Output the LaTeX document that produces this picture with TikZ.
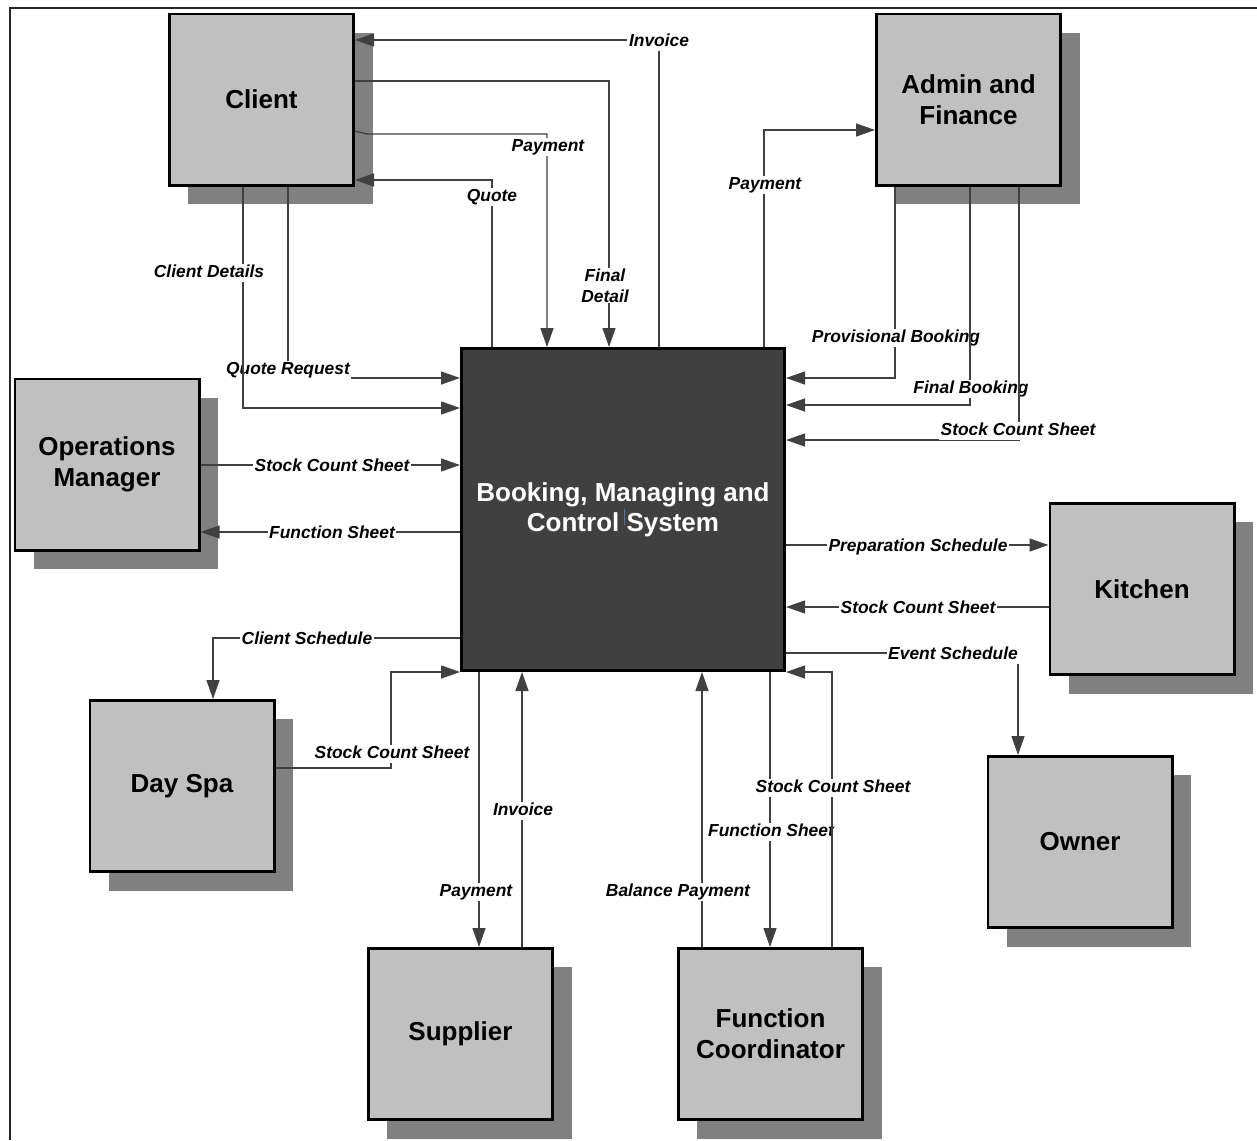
\documentclass[tikz,border=0pt]{standalone}
\usepackage{fontspec}
\setmainfont{Liberation Sans}
\usetikzlibrary{arrows.meta,shadows}
\definecolor{boxgray}{HTML}{C0C0C0}
\definecolor{shadowgray}{HTML}{808080}
\definecolor{coregray}{HTML}{404040}
\definecolor{linegray}{HTML}{404040}
\definecolor{framegray}{HTML}{262626}
\definecolor{caretblue}{HTML}{5470A8}

\begin{document}
\begin{tikzpicture}[x=0.5pt,y=-0.5pt,
  entity/.style={draw=black, line width=1.3pt, fill=boxgray,
    minimum width=92.2pt, minimum height=85.7pt, inner sep=0pt, align=center,
    font=\bfseries\fontsize{13}{15.5}\selectfont,
    drop shadow={shadow xshift=9.5pt, shadow yshift=-9.5pt, opacity=1, fill=shadowgray}},
  core/.style={draw=black, line width=1.3pt, fill=coregray, text=white,
    minimum width=161.7pt, minimum height=161.2pt, inner sep=0pt, align=center,
    font=\bfseries\fontsize{13}{15}\selectfont},
  flow/.style={draw=linegray, line width=0.65pt, -{Triangle[length=9.5pt,width=6.5pt]}},
  lbltxt/.style={fill=white, inner xsep=0.8pt, inner ysep=0.3pt, yshift=-0.9pt,
    font=\bfseries\itshape\fontsize{8.7}{10.5}\selectfont},
  lbl/.style={lbltxt, text height=6.5pt, text depth=1.8pt}
]
% canvas
\useasboundingbox (0,0) rectangle (1257,1140);
\fill[white] (0,0) rectangle (1257,1140);
\draw[framegray, line width=1.1pt] (10,1140) -- (10,8) -- (1257,8);

% external entities and the central system
\node[entity] (client) at (261.5,99.5)  {Client};
\node[entity] (adm)    at (968.5,99.5)  {Admin and\\Finance};
\node[entity] (om)     at (107,464.5)   {Operations\\Manager};
\node[entity] (kit)    at (1142,589)    {Kitchen};
\node[entity] (own)    at (1080,842)    {Owner};
\node[entity] (spa)    at (182,786)     {Day Spa};
\node[entity] (sup)    at (460.5,1034)  {Supplier};
\node[entity] (fc)     at (770.5,1034)  {Function\\Coordinator};
\node[core]   (sys)    at (623,509.5)   {Booking, Managing and\\Control System};
\draw[caretblue, line width=0.4pt] (624,509) -- (624,525);

% client flows
\draw[flow] (sys.north -| 659,0) |- (client.east |- 0,40);
\node[lbl] (lInvC) at (659,40) {Invoice};
\draw[flow] (client.east |- 0,81) -| (sys.north -| 609,0);
\node[lbltxt, align=center] (lFin) at (605,284) {Final\\Detail};
\draw[flow] (client.east |- 0,131) -- (367,134) -| (sys.north -| 547,0);
\node[lbl] (lPayC) at (548,145) {Payment};
\draw[flow] (sys.north -| 492,0) |- (client.east |- 0,180);
\node[lbl] (lQuote) at (492,195) {Quote};
\draw[flow] (client.south -| 288,0) |- (sys.west |- 0,378);
\node[lbl] (lQReq) at (288,368) {Quote Request};
\draw[flow] (client.south -| 243,0) |- (sys.west |- 0,408);
\node[lbl] (lCDet) at (209,271) {Client Details};

% operations manager flows
\draw[flow] (om.east |- 0,465) -- (sys.west |- 0,465);
\node[lbl] (lOMs) at (332,465) {Stock Count Sheet};
\draw[flow] (sys.west |- 0,532) -- (om.east |- 0,532);
\node[lbl] (lOMf) at (332,532) {Function Sheet};

% day spa flows
\draw[flow] (sys.west |- 0,638) -| (spa.north -| 213,0);
\node[lbl] (lCSch) at (307,638) {Client Schedule};
\draw[flow] (spa.east |- 0,768) -| (391,672) -- (sys.west |- 0,672);
\node[lbl] (lSpaS) at (392,752) {Stock Count Sheet};

% supplier flows
\draw[flow] (sys.south -| 479,0) -- (sup.north -| 479,0);
\node[lbl] (lPayS) at (476,890) {Payment};
\draw[flow] (sup.north -| 522,0) -- (sys.south -| 522,0);
\node[lbl] (lInvS) at (523,809) {Invoice};

% function coordinator flows
\draw[flow] (fc.north -| 702,0) -- (sys.south -| 702,0);
\node[lbl] (lBal) at (678,890) {Balance Payment};
\draw[flow] (sys.south -| 770,0) -- (fc.north -| 770,0);
\node[lbl] (lFCf) at (771,830) {Function Sheet};
\draw[flow] (fc.north -| 832,0) |- (sys.east |- 0,672);
\node[lbl] (lFCs) at (833,786) {Stock Count Sheet};

% kitchen flows
\draw[flow] (sys.east |- 0,545) -- (kit.west |- 0,545);
\node[lbl] (lPrep) at (918,545) {Preparation Schedule};
\draw[flow] (kit.west |- 0,607) -- (sys.east |- 0,607);
\node[lbl] (lKitS) at (918,607) {Stock Count Sheet};

% owner flow
\draw[flow] (sys.east |- 0,653) -| (own.north -| 1018,0);
\node[lbl] (lEvt) at (953,653) {Event Schedule};

% admin and finance flows
\draw[flow] (sys.north -| 764,0) |- (adm.west |- 0,130);
\node[lbl] (lPayA) at (765,183) {Payment};
\draw[flow] (adm.south -| 895,0) |- (sys.east |- 0,378);
\node[lbl] (lProv) at (896,336) {Provisional Booking};
\draw[flow] (adm.south -| 970,0) |- (sys.east |- 0,405);
\node[lbl] (lFinB) at (971,387) {Final Booking};
\draw[flow] (adm.south -| 1019,0) |- (sys.east |- 0,440);
\node[lbl] (lAdmS) at (1018,429) {Stock Count Sheet};
\end{tikzpicture}
\end{document}
